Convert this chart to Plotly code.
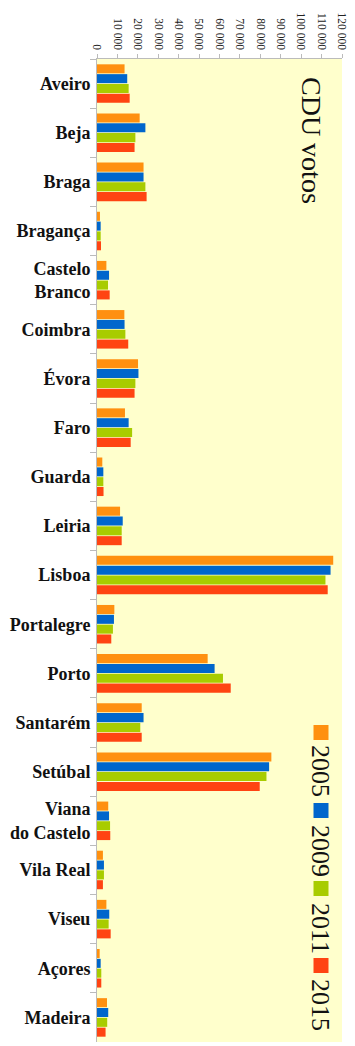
import plotly.graph_objects as go

districts = ["Aveiro", "Beja", "Braga", "Bragança", "Castelo<br>Branco", "Coimbra", "Évora",
             "Faro", "Guarda", "Leiria", "Lisboa", "Portalegre", "Porto", "Santarém", "Setúbal",
             "Viana<br>do Castelo", "Vila Real", "Viseu", "Açores", "Madeira"]
years = ["2005", "2009", "2011", "2015"]
v2005 = [13500, 20900, 22800, 1450, 4600, 13400, 20100, 13700, 2600, 11300, 115700, 8500, 54200, 21900, 85400, 5500, 2900, 4600, 1300, 4900]
v2009 = [14800, 23700, 22800, 1800, 5900, 13500, 20300, 15500, 3100, 12600, 114400, 8300, 57600, 22800, 84300, 5900, 3400, 6000, 1800, 5500]
v2011 = [15500, 18800, 23700, 1800, 5400, 13900, 18800, 17200, 3100, 12100, 111900, 7800, 61700, 21200, 83000, 6400, 3400, 5700, 2100, 5000]
v2015 = [16000, 18400, 24300, 1950, 6200, 15300, 18400, 16500, 3200, 12100, 113000, 7000, 65500, 21900, 79700, 6500, 2900, 6700, 2100, 4200]
series = [v2005, v2009, v2011, v2015]
colors = ["#FF9010", "#0066CC", "#A8CC00", "#FF4412"]

W, H = 355, 1046
L, R, T, B = 97, 13, 59, 4
pw, ph = W - L - R, H - T - B

def xp(px):
    return (px - L) / pw

def yp(py):
    return (H - B - py) / ph

fig = go.Figure()
for name, vals, c in zip(years, series, colors):
    fig.add_trace(go.Bar(y=districts, x=vals, orientation="h", name=name,
                         marker=dict(color=c, line=dict(width=0)), showlegend=False))

serif = "Liberation Serif, Times New Roman, serif"
annotations = [dict(text="CDU votos", xref="paper", yref="paper", x=xp(311.5), y=yp(140.5),
                    xanchor="center", yanchor="middle", textangle=90, showarrow=False,
                    font=dict(family=serif, size=28, color="#111111"))]
shapes = []
sq_tops = [725, 803, 881, 958]
txt_centers = [771, 851, 928, 1005]
for i, (name, c) in enumerate(zip(years, colors)):
    shapes.append(dict(type="rect", xref="paper", yref="paper", x0=xp(313.5), x1=xp(328.5),
                       y0=yp(sq_tops[i] + 15), y1=yp(sq_tops[i]), fillcolor=c, line=dict(width=0)))
    annotations.append(dict(text=name, xref="paper", yref="paper", x=xp(321), y=yp(txt_centers[i]),
                            xanchor="center", yanchor="middle", textangle=90, showarrow=False,
                            font=dict(family=serif, size=26, color="#111111")))

fig.update_layout(
    width=W, height=H, margin=dict(l=L, r=R, t=T, b=B, pad=0),
    paper_bgcolor="white", plot_bgcolor="#FFFFCC",
    barmode="group", bargap=0.2, bargroupgap=0.08,
    separators=", ",
    annotations=annotations, shapes=shapes,
    xaxis=dict(side="top", range=[0, 120000], dtick=10000, tick0=0, tickangle=90,
               tickformat=",d", exponentformat="none",
               showgrid=False, zeroline=False, showline=True, linecolor="#BBBBBB", linewidth=1,
               ticks="outside", ticklen=4, tickcolor="#BBBBBB",
               tickfont=dict(family=serif, size=11.5, color="#222222"), fixedrange=True),
    yaxis=dict(autorange="reversed", showgrid=False, showline=True, linecolor="#BBBBBB", linewidth=1,
               ticks="outside", ticklen=6, tickcolor="#BBBBBB", tickson="boundaries",
               tickfont=dict(family=serif, size=18, color="#111111", weight="bold"),
               ticklabelstandoff=2, fixedrange=True),
)

fig.write_html("out.html")
